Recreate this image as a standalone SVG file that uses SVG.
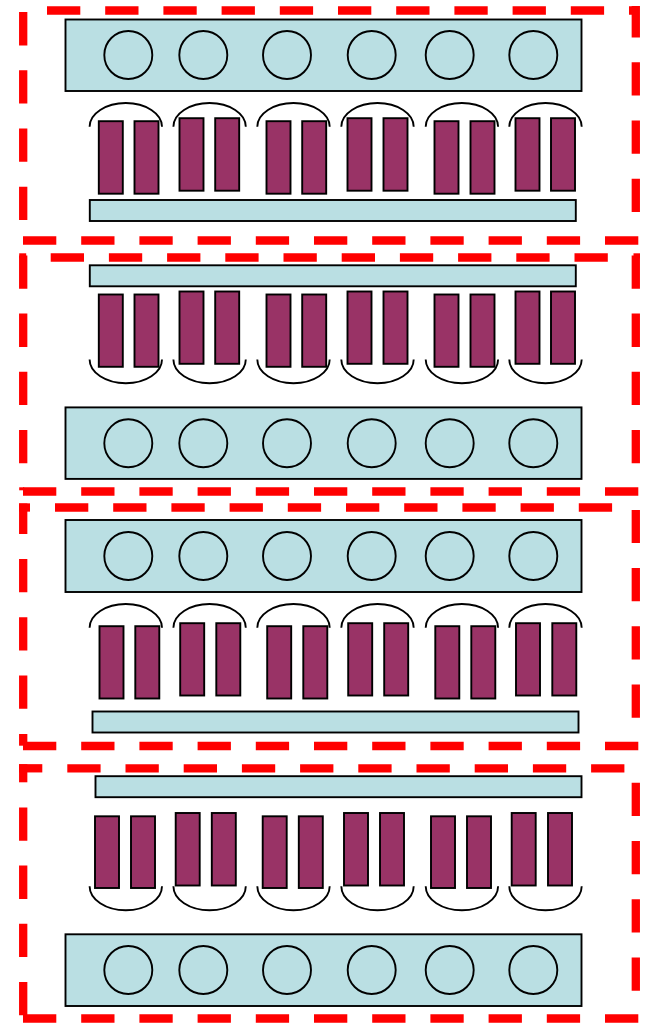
<svg xmlns="http://www.w3.org/2000/svg" width="645" height="1024" viewBox="0 0 645 1024">
<style>
.b{fill:#BADFE3;stroke:#000;stroke-width:1.9}
.c{fill:none;stroke:#000;stroke-width:1.9}
.p{fill:#993366;stroke:#000;stroke-width:1.9}
.a{fill:none;stroke:#000;stroke-width:1.9}
.d{fill:none;stroke:#F00;stroke-width:8.3;stroke-dasharray:33.3 24.9}
.r{fill:#F00}
</style>
<rect width="645" height="1024" fill="#fff"/>
<g id="panel-1">
<rect class="b" x="65.5" y="19.5" width="516" height="71.5"/>
<g class="c"><circle cx="128.3" cy="55" r="24"/><circle cx="203.3" cy="55" r="24"/><circle cx="287" cy="55" r="24"/><circle cx="371.7" cy="55" r="24"/><circle cx="449.7" cy="55" r="24"/><circle cx="533.3" cy="55" r="24"/></g>
<g class="p"><rect x="98.8" y="121.2" width="24" height="72.5"/><rect x="134.5" y="121.2" width="24" height="72.5"/><rect x="179.5" y="118.2" width="24" height="72.5"/><rect x="215.2" y="118.2" width="24" height="72.5"/><rect x="266.5" y="121.2" width="24" height="72.5"/><rect x="302.2" y="121.2" width="24" height="72.5"/><rect x="347.5" y="118.2" width="24" height="72.5"/><rect x="383.5" y="118.2" width="24" height="72.5"/><rect x="434.5" y="121.2" width="24" height="72.5"/><rect x="470.5" y="121.2" width="24" height="72.5"/><rect x="515.5" y="118.2" width="24" height="72.5"/><rect x="551" y="118.2" width="24" height="72.5"/></g>
<path class="a" d="M89.6 126.7a36.2 23.7 0 0 1 72.4 0M173.4 126.7a36.2 23.7 0 0 1 72.4 0M257.3 126.7a36.2 23.7 0 0 1 72.4 0M341.3 126.7a36.2 23.7 0 0 1 72.4 0M425.7 126.7a36.2 23.7 0 0 1 72.4 0M509.3 126.7a36.2 23.7 0 0 1 72.4 0"/>
<rect class="b" x="89.8" y="200" width="486" height="21"/>
</g>
<g id="panel-2">
<rect class="b" x="89.8" y="265.3" width="486" height="21"/>
<g class="p"><rect x="98.8" y="294.5" width="24" height="72.3"/><rect x="134.5" y="294.5" width="24" height="72.3"/><rect x="179.5" y="291.5" width="24" height="72.3"/><rect x="215.2" y="291.5" width="24" height="72.3"/><rect x="266.5" y="294.5" width="24" height="72.3"/><rect x="302.2" y="294.5" width="24" height="72.3"/><rect x="347.5" y="291.5" width="24" height="72.3"/><rect x="383.5" y="291.5" width="24" height="72.3"/><rect x="434.5" y="294.5" width="24" height="72.3"/><rect x="470.5" y="294.5" width="24" height="72.3"/><rect x="515.5" y="291.5" width="24" height="72.3"/><rect x="551" y="291.5" width="24" height="72.3"/></g>
<path class="a" d="M89.6 359.5a36.2 23.7 0 0 0 72.4 0M173.4 359.5a36.2 23.7 0 0 0 72.4 0M257.3 359.5a36.2 23.7 0 0 0 72.4 0M341.3 359.5a36.2 23.7 0 0 0 72.4 0M425.7 359.5a36.2 23.7 0 0 0 72.4 0M509.3 359.5a36.2 23.7 0 0 0 72.4 0"/>
<rect class="b" x="65.5" y="407.4" width="516" height="71.5"/>
<g class="c"><circle cx="128.3" cy="443.3" r="24"/><circle cx="203.3" cy="443.3" r="24"/><circle cx="287" cy="443.3" r="24"/><circle cx="371.7" cy="443.3" r="24"/><circle cx="449.7" cy="443.3" r="24"/><circle cx="533.3" cy="443.3" r="24"/></g>
</g>
<g id="panel-3">
<rect class="b" x="65.5" y="520" width="516" height="72"/>
<g class="c"><circle cx="128.3" cy="556" r="24"/><circle cx="203.3" cy="556" r="24"/><circle cx="287" cy="556" r="24"/><circle cx="371.7" cy="556" r="24"/><circle cx="449.7" cy="556" r="24"/><circle cx="533.3" cy="556" r="24"/></g>
<g class="p"><rect x="99.5" y="626.2" width="24" height="72.3"/><rect x="135.3" y="626.2" width="24" height="72.3"/><rect x="180.2" y="623.2" width="24" height="72.3"/><rect x="216.3" y="623.2" width="24" height="72.3"/><rect x="267.2" y="626.2" width="24" height="72.3"/><rect x="303.3" y="626.2" width="24" height="72.3"/><rect x="348.2" y="623.2" width="24" height="72.3"/><rect x="384.2" y="623.2" width="24" height="72.3"/><rect x="435.3" y="626.2" width="24" height="72.3"/><rect x="471.3" y="626.2" width="24" height="72.3"/><rect x="516" y="623.2" width="24" height="72.3"/><rect x="552.3" y="623.2" width="24" height="72.3"/></g>
<path class="a" d="M89.6 627.7a36.2 23.7 0 0 1 72.4 0M173.4 627.7a36.2 23.7 0 0 1 72.4 0M257.3 627.7a36.2 23.7 0 0 1 72.4 0M341.3 627.7a36.2 23.7 0 0 1 72.4 0M425.7 627.7a36.2 23.7 0 0 1 72.4 0M509.3 627.7a36.2 23.7 0 0 1 72.4 0"/>
<rect class="b" x="92.5" y="711.5" width="486" height="21"/>
</g>
<g id="panel-4">
<rect class="b" x="95.5" y="776.2" width="486" height="21"/>
<g class="p"><rect x="95" y="816.3" width="24" height="71.7"/><rect x="131" y="816.3" width="24" height="71.7"/><rect x="175.7" y="813" width="24" height="72.5"/><rect x="211.8" y="813" width="24" height="72.5"/><rect x="262.7" y="816.3" width="24" height="71.7"/><rect x="298.8" y="816.3" width="24" height="71.7"/><rect x="344" y="813" width="24" height="72.5"/><rect x="380" y="813" width="24" height="72.5"/><rect x="431" y="816.3" width="24" height="71.7"/><rect x="467" y="816.3" width="24" height="71.7"/><rect x="511.7" y="813" width="24" height="72.5"/><rect x="548" y="813" width="24" height="72.5"/></g>
<path class="a" d="M89.6 886.3a36.2 24 0 0 0 72.4 0M173.4 886.3a36.2 24 0 0 0 72.4 0M257.3 886.3a36.2 24 0 0 0 72.4 0M341.3 886.3a36.2 24 0 0 0 72.4 0M425.7 886.3a36.2 24 0 0 0 72.4 0M509.3 886.3a36.2 24 0 0 0 72.4 0"/>
<rect class="b" x="65.5" y="934.3" width="516" height="71.7"/>
<g class="c"><circle cx="128.3" cy="970" r="24"/><circle cx="203.3" cy="970" r="24"/><circle cx="287" cy="970" r="24"/><circle cx="371.7" cy="970" r="24"/><circle cx="449.7" cy="970" r="24"/><circle cx="533.3" cy="970" r="24"/></g>
</g>
<g id="frames">
<path class="d" d="M47 10.5H638"/><path class="d" d="M23.2 220V12"/><path class="d" d="M635.8 212V6"/><path class="d" d="M23 240.5H640"/>
<path class="d" d="M50.7 257.5H609"/><path class="d" d="M23.2 463.3V255"/><path class="d" d="M635.8 463.3V255"/><rect class="r" x="19.2" y="253.3" width="7" height="5"/><rect class="r" x="633.5" y="253.3" width="6.5" height="5"/><rect class="r" x="19.2" y="487.3" width="5" height="3"/><path class="d" d="M23 491.5H640"/>
<path class="d" d="M19 507.5H30"/><path class="d" d="M55 507.5H613"/><path class="d" d="M23.2 708.7V503.5"/><path class="d" d="M635.8 717.7V510"/><path class="d" d="M23.2 745.7V734"/><path class="d" d="M23 746H640"/>
<path class="d" d="M19 768.3H42.3"/><path class="d" d="M67.3 768.3H625"/><path class="d" d="M23.2 764.3V782.3"/><path class="d" d="M23.2 1015.3V807"/><path class="d" d="M635.8 990.7V782.3"/><path class="d" d="M23 1018.5H640"/>
</g>
</svg>
